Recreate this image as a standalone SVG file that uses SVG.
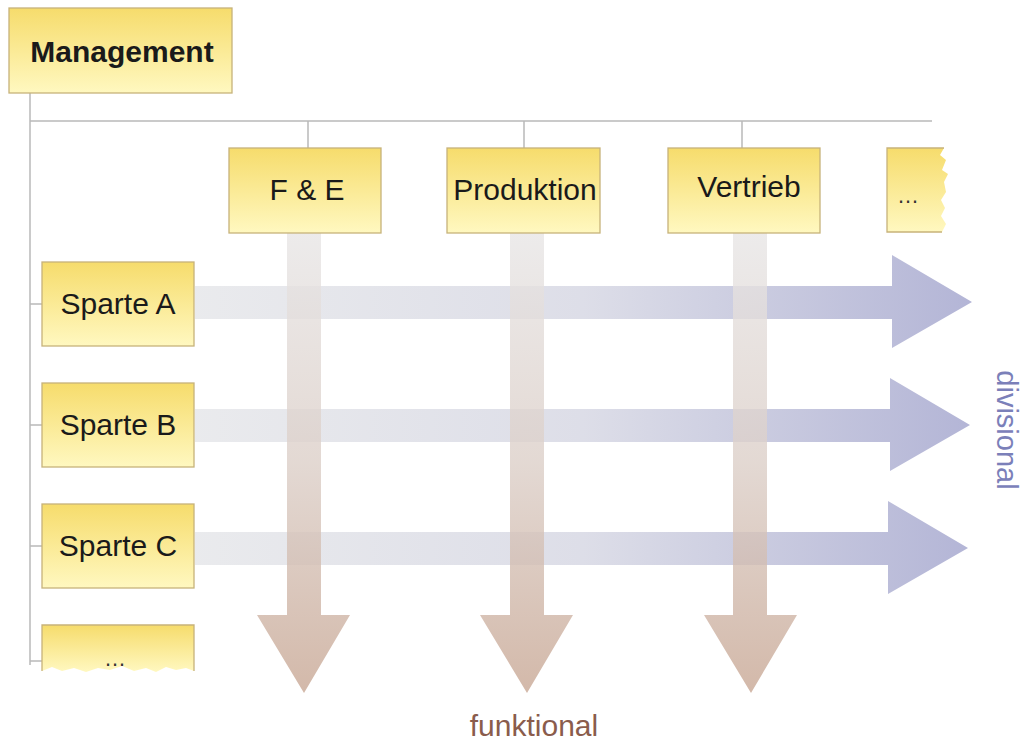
<svg xmlns="http://www.w3.org/2000/svg" width="1021" height="742" viewBox="0 0 1021 742">
<defs>
<linearGradient id="box" x1="0" y1="0" x2="0" y2="1">
<stop offset="0" stop-color="#f6dc6c"/>
<stop offset="1" stop-color="#fff8c0"/>
</linearGradient>
<linearGradient id="hArrow" x1="195" y1="0" x2="972" y2="0" gradientUnits="userSpaceOnUse">
<stop offset="0" stop-color="#e6e7ea"/>
<stop offset="0.5" stop-color="#d7d8e4"/>
<stop offset="1" stop-color="#a6a8cf"/>
</linearGradient>
<linearGradient id="vArrow" x1="0" y1="233" x2="0" y2="693" gradientUnits="userSpaceOnUse">
<stop offset="0" stop-color="#e8e6e6"/>
<stop offset="0.5" stop-color="#dccfc8"/>
<stop offset="1" stop-color="#c8a794"/>
</linearGradient>
<style>
.box{fill:url(#box);stroke:#c7b27a;stroke-width:1.3}
.line{stroke:#b9b9b9;stroke-width:1.5;fill:none}
.lbl{font-family:"Liberation Sans",Arial,sans-serif;font-size:30px;fill:#1a1a1a;text-anchor:middle}
.dots{font-family:"Liberation Sans",Arial,sans-serif;font-size:22px;fill:#333;text-anchor:middle}
.ha{fill:url(#hArrow);opacity:0.85}
.va{fill:url(#vArrow);opacity:0.8}
</style>
</defs>
<rect width="1021" height="742" fill="#ffffff"/>

<g id="connectors">
<path class="line" d="M30 93V665M30 121H932M308 121V148M524 121V148M742 121V148M30 304H42M30 425H42M30 546H42M30 661H42"/>
</g>

<g id="arrows">
<path class="ha" d="M195 286H892V255L972 302L892 348V319H195Z"/>
<path class="ha" d="M195 409H890V378L970 425L890 471V442H195Z"/>
<path class="ha" d="M195 532H888V501L968 548L888 594V565H195Z"/>
<path class="va" d="M287 233H321V615H350L304 693L257 615H287Z"/>
<path class="va" d="M510 233H544V615H573L527 693L480 615H510Z"/>
<path class="va" d="M733 233H767V615H797L751 693L704 615H733Z"/>
</g>

<g id="management">
<rect class="box" x="9" y="8" width="223" height="85"/>
<text class="lbl" x="122" y="62" font-weight="bold" font-size="31">Management</text>
</g>
<g id="fue">
<rect class="box" x="229" y="148" width="152" height="85"/>
<text class="lbl" x="307" y="200">F &amp; E</text>
</g>
<g id="produktion">
<rect class="box" x="447" y="148" width="153" height="85"/>
<text class="lbl" x="525" y="200">Produktion</text>
</g>
<g id="vertrieb">
<rect class="box" x="668" y="148" width="152" height="85"/>
<text class="lbl" x="749" y="197">Vertrieb</text>
</g>
<g id="more-functions">
<path d="M887 148H944L940 155L946 160L942 170L948 174L944 182L946 192L941 200L945 208L941 216L946 224L942 232H887Z" fill="url(#box)"/>
<path d="M944 148H887V232H942" fill="none" stroke="#c7b27a" stroke-width="1.3"/>
<text class="dots" x="908" y="203">…</text>
</g>
<g id="sparte-a">
<rect class="box" x="42" y="262" width="152" height="84"/>
<text class="lbl" x="118" y="314">Sparte A</text>
</g>
<g id="sparte-b">
<rect class="box" x="42" y="383" width="152" height="84"/>
<text class="lbl" x="118" y="435">Sparte B</text>
</g>
<g id="sparte-c">
<rect class="box" x="42" y="504" width="152" height="84"/>
<text class="lbl" x="118" y="556">Sparte C</text>
</g>
<g id="more-divisions">
<path d="M42 625H194V671L186 668L176 670L166 667L156 672L146 668L134 671L122 666L110 670L98 668L86 672L74 668L62 671L52 667L42 671Z" fill="url(#box)"/>
<path d="M42 671V625H194V671" fill="none" stroke="#c7b27a" stroke-width="1.3"/>
<text class="dots" x="115" y="666">…</text>
</g>

<g id="labels">
<text x="534" y="736" font-family="Liberation Sans,Arial,sans-serif" font-size="30" fill="#8a5c4c" text-anchor="middle">funktional</text>
<text transform="translate(997 430) rotate(90)" font-family="Liberation Sans,Arial,sans-serif" font-size="29" fill="#7b80b9" text-anchor="middle">divisional</text>
</g>
</svg>
